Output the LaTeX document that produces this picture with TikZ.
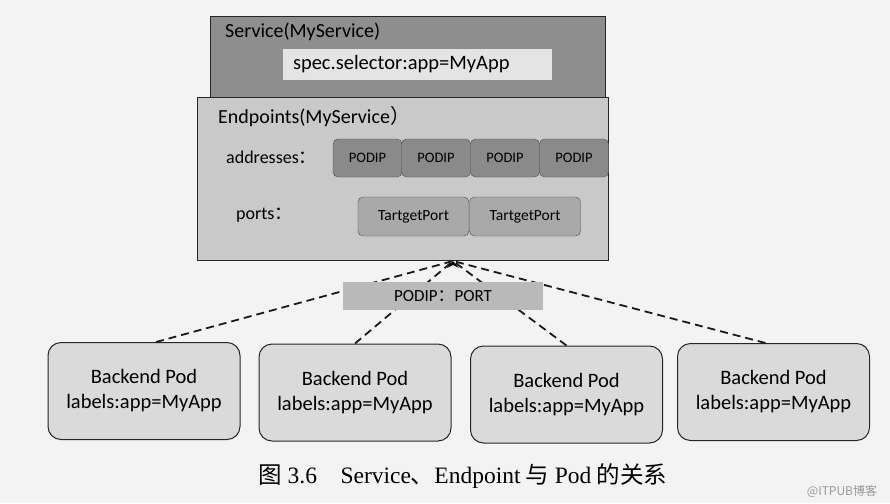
\documentclass[tikz,border=0pt]{standalone}
\usepackage{fontspec}
\setmainfont{Carlito}
\newfontfamily\capserif{Liberation Serif}
\newfontfamily\cjk{Noto Sans CJK SC}
\usetikzlibrary{arrows.meta}
\definecolor{paper}{HTML}{F3F3F3}
\definecolor{svcgray}{HTML}{8E8E8E}
\definecolor{epgray}{HTML}{C9C9C9}
\definecolor{ipgray}{HTML}{8A8A8A}
\definecolor{portgray}{HTML}{A9A9A9}
\definecolor{podgray}{HTML}{DADADA}
\definecolor{labgray}{HTML}{B9B9B9}
\definecolor{selgray}{HTML}{E4E4E4}
\tikzset{
  panel/.style={draw=black!85, line width=1pt, anchor=north west, inner sep=0pt},
  ipbox/.style={draw=black!70, fill=ipgray, rounded corners=5pt, minimum width=69pt, minimum height=38pt, inner sep=0pt, font=\fontsize{14.5}{16}\selectfont},
  portbox/.style={draw=black!70, fill=portgray, rounded corners=5pt, minimum width=111pt, minimum height=39pt, inner sep=0pt, font=\fontsize{15.5}{17}\selectfont},
  podbox/.style={draw=black!85, line width=1pt, fill=podgray, rounded corners=13pt, minimum width=192pt, minimum height=97pt, align=center, font=\fontsize{20.5}{25}\selectfont},
  lbl/.style={anchor=west, inner sep=0pt, font=\fontsize{20}{22}\selectfont},
  link/.style={dashed, dash pattern=on 8pt off 5pt, line width=1.8pt, black!90}
}
\begin{document}
\begin{tikzpicture}[x=1pt,y=-1pt]
\fill[paper] (0,0) rectangle (890,503);
\useasboundingbox (0,0) rectangle (890,503);
% Service panel
\node[panel, fill=svcgray, minimum width=395pt, minimum height=81pt] (svc) at (210,16) {};
\node[lbl] (svct) at (225,32) {Service(MyService)};
\node[fill=selgray, text width=259pt, align=left, inner xsep=5pt, inner ysep=0pt, minimum height=31pt, font=\fontsize{20.5}{22}\selectfont] (sel) at (417.5,64.5) {\hspace*{5pt}spec.selector:app=MyApp};
% Endpoints panel
\node[panel, fill=epgray, minimum width=411pt, minimum height=163pt] (ep) at (197,97) {};
\node[lbl] (ept) at (218,117) {Endpoints(MyService{\cjk ）}};
\node[lbl, font=\fontsize{18}{20}\selectfont] (addr) at (226,157) {addresses{\cjk ：}};
\node[lbl, font=\fontsize{18}{20}\selectfont] (ports) at (236,215) {ports{\cjk ：}};
\node[ipbox] (ip1) at (367.5,158) {PODIP};
\node[ipbox] (ip2) at (436,158) {PODIP};
\node[ipbox] (ip3) at (505,158) {PODIP};
\node[ipbox] (ip4) at (574,158) {PODIP};
\node[portbox] (tp1) at (413.5,216.5) {TartgetPort};
\node[portbox] (tp2) at (525,216.5) {TartgetPort};
% Pods
\node[podbox] (pod1) at (144,391) {Backend Pod\\labels:app=MyApp};
\node[podbox] (pod2) at (355,392.5) {Backend Pod\\labels:app=MyApp};
\node[podbox] (pod3) at (566.5,394.5) {Backend Pod\\labels:app=MyApp};
\node[podbox] (pod4) at (773.5,392) {Backend Pod\\labels:app=MyApp};
% links
\coordinate (tip) at (453,261);
\draw[link] (pod1.north) ++(12,0) coordinate (p1) -- (tip);
\draw[link] (pod2.north) -- (tip);
\draw[link] (pod3.north) -- (tip);
\draw[link] (pod4.north) ++(-8,0) coordinate (p4) -- (tip);
\fill[black] (tip) -- ++(-6,7) -- ++(6,-3) -- ++(6,3) -- cycle;
\node[fill=labgray, minimum width=200pt, minimum height=28pt, inner sep=0pt, font=\fontsize{17}{20}\selectfont] (pp) at (443,296) {PODIP{\cjk ：}PORT};
% caption
\node[inner sep=0pt, font=\fontsize{23.5}{26}\selectfont] (cap) at (463,476) {{\cjk 图} {\capserif 3.6}\hspace{1em}{\capserif Service}{\cjk 、}{\capserif Endpoint} {\cjk 与} {\capserif Pod} {\cjk 的关系}};
\node[inner sep=0pt, text=black!40, font=\fontsize{12}{14}\selectfont] (wm) at (842,491) {{\cjk @ITPUB博客}};
\end{tikzpicture}
\end{document}
